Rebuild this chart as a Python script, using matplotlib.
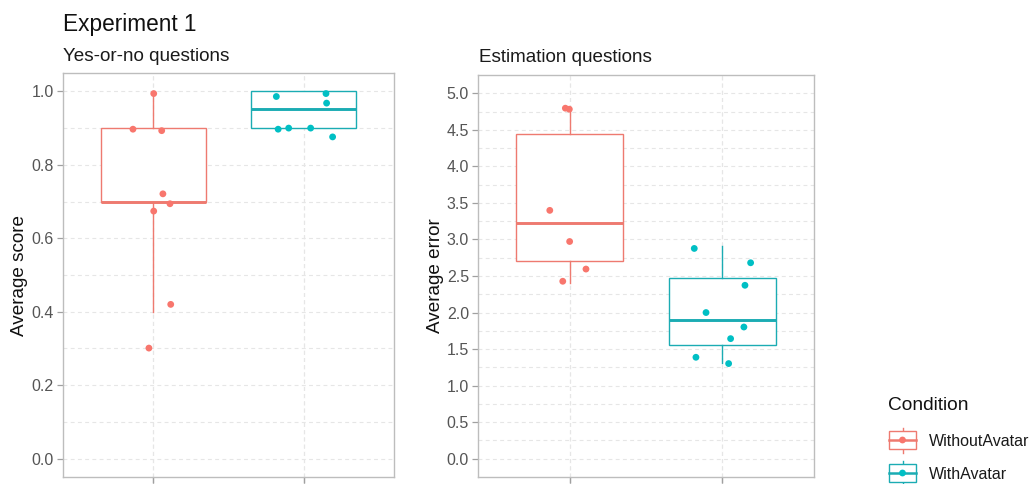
import numpy as np
import matplotlib.pyplot as plt
from matplotlib.patches import Rectangle

plt.rcParams['font.family'] = ['Liberation Sans', 'DejaVu Sans']

conditions = ['WithoutAvatar', 'WithAvatar']
colors = ['#F8766D', '#00BFC4']
line_colors = ['#EE7A70', '#1BACB3']

# yes-or-no questions: box stats (whislo, q1, med, q3, whishi) per condition
score_box = [[0.40, 0.70, 0.70, 0.90, 1.00],
             [0.90, 0.90, 0.953, 1.00, 1.00]]
# jittered points: (x offset from category, value)
score_without_x = [0.003, -0.135, 0.056, 0.064, 0.111, 0.003, 0.116, -0.029]
score_without_y = [0.994, 0.897, 0.893, 0.721, 0.694, 0.674, 0.420, 0.301]
score_with_x = [-0.182, 0.148, 0.152, -0.170, -0.100, 0.046, 0.192]
score_with_y = [0.986, 0.994, 0.968, 0.897, 0.900, 0.900, 0.876]

# estimation questions
error_box = [[2.41, 2.711, 3.22, 4.44, 4.79],
             [1.31, 1.557, 1.90, 2.47, 2.905]]
error_without_x = [-0.028, -0.002, -0.130, 0.000, 0.107, -0.045]
error_without_y = [4.796, 4.782, 3.398, 2.972, 2.595, 2.428]
error_with_x = [-0.184, 0.185, 0.148, -0.107, 0.141, 0.054, -0.173, 0.041]
error_with_y = [2.877, 2.681, 2.373, 2.000, 1.802, 1.643, 1.388, 1.302]

score_ticks = [0.0, 0.2, 0.4, 0.6, 0.8, 1.0]
error_ticks = [0.0, 0.5, 1.0, 1.5, 2.0, 2.5, 3.0, 3.5, 4.0, 4.5, 5.0]

W, H = 1036, 484
fig = plt.figure(figsize=(W / 100, H / 100), dpi=100)


def panel(rect, box, pts, ticks, ylim, minor_step):
    ax = fig.add_axes(rect)
    ax.set_xlim(0.4, 2.6)
    ax.set_ylim(*ylim)
    ax.set_facecolor('white')
    for s in ax.spines.values():
        s.set_color('#BDBDBD')
        s.set_linewidth(1.0)
    ax.set_yticks(ticks)
    ax.set_yticklabels([f'{t:.1f}' for t in ticks])
    ax.set_yticks(np.arange(ticks[0] + minor_step, ticks[-1], 2 * minor_step), minor=True)
    ax.set_xticks([1, 2])
    ax.tick_params(axis='both', which='major', length=4, width=0.9, color='#A0A0A0',
                   labelsize=11.5, labelcolor='#555555', pad=2.5)
    ax.tick_params(axis='x', labelbottom=False)
    ax.tick_params(axis='both', which='minor', length=0)
    ax.grid(True, which='both', color='#E6E6E6', linestyle=(0, (3.5, 3)), linewidth=0.8)
    ax.set_axisbelow(True)

    for i, (st, col) in enumerate(zip(box, line_colors)):
        stats = [dict(whislo=st[0], q1=st[1], med=st[2], q3=st[3], whishi=st[4], fliers=[])]
        ax.bxp(stats, positions=[i + 1], widths=0.7, showcaps=False, showfliers=False,
               patch_artist=True,
               boxprops=dict(facecolor='white', edgecolor=col, linewidth=1.0),
               whiskerprops=dict(color=col, linewidth=1.0),
               medianprops=dict(color=col, linewidth=2.1, solid_capstyle='butt'))
    for i, ((xo, yv), col) in enumerate(zip(pts, colors)):
        ax.scatter(np.array(xo) + i + 1, yv, s=24, color=col, edgecolors='none', zorder=5)
    return ax


ax1 = panel([63 / W, 7 / H, 331 / W, 404 / H], score_box,
            [(score_without_x, score_without_y), (score_with_x, score_with_y)],
            score_ticks, (-0.05, 1.05), 0.1)
ax2 = panel([478 / W, 7 / H, 336 / W, 402 / H], error_box,
            [(error_without_x, error_without_y), (error_with_x, error_with_y)],
            error_ticks, (-0.25, 5.25), 0.25)

# titles and axis labels
fig.text(63 / W, 1 - 31.5 / H, 'Experiment 1', fontsize=16.3, color='#111111', va='baseline')
fig.text(63 / W, 1 - 61 / H, 'Yes-or-no questions', fontsize=13.6, color='#1a1a1a', va='baseline')
fig.text(479 / W, 1 - 62.5 / H, 'Estimation questions', fontsize=13.6, color='#1a1a1a', va='baseline')
fig.text(20 / W, 1 - 275.5 / H, 'Average score', fontsize=13.6, rotation=90,
         ha='center', va='center', color='#111111')
fig.text(435 / W, 1 - 276 / H, 'Average error', fontsize=13.6, rotation=90,
         ha='center', va='center', color='#111111')

# legend drawn in pixel space
lg = fig.add_axes([0, 0, 1, 1])
lg.set_xlim(0, W)
lg.set_ylim(H, 0)
lg.axis('off')
lg.patch.set_alpha(0)
lg.text(888, 405, 'Condition', fontsize=13.8, va='center', ha='left', color='#111111')
for k, (name, col, lcol) in enumerate(zip(conditions, colors, line_colors)):
    cy = 440 + 33 * k
    lg.plot([902.5, 902.5], [cy - 12.5, cy + 12.5], color=lcol, lw=1.0)
    lg.add_patch(Rectangle((889, cy - 9), 27, 18, facecolor='white', edgecolor=lcol, lw=1.0, zorder=3))
    lg.plot([889, 916], [cy, cy], color=lcol, lw=1.8, zorder=4)
    lg.scatter([902.5], [cy], s=24, color=col, edgecolors='none', zorder=5)
    lg.text(929, cy + 1.5, name, fontsize=11.5, va='center', ha='left', color='#1a1a1a')

fig.savefig('out.png', dpi=100, facecolor='white')
